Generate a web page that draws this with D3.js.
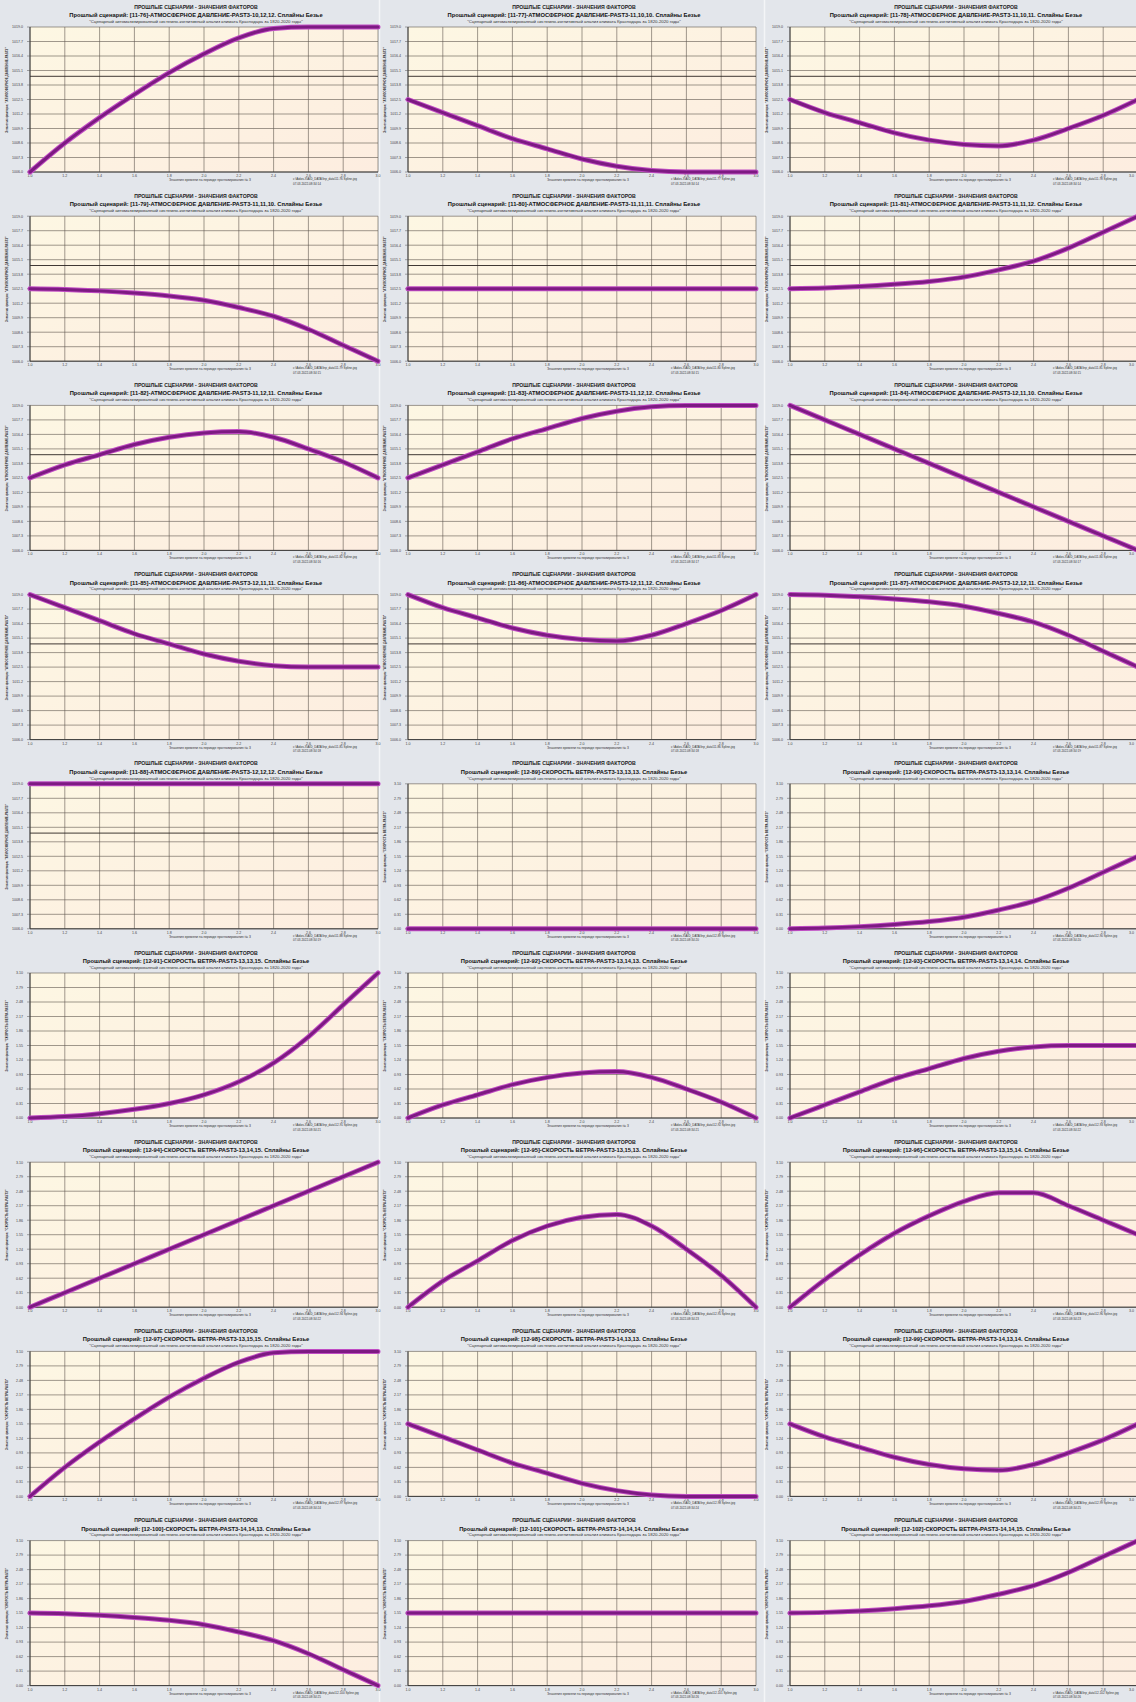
<!DOCTYPE html>
<html><head><meta charset="utf-8">
<script src="https://cdn.jsdelivr.net/npm/d3@7"></script>
<style>
html,body{margin:0;padding:0;background:#e3e6eb;}
svg{display:block;font-family:"Liberation Sans",Arial,sans-serif;}
</style></head>
<body><svg id="c" width="1136" height="1702"></svg>
<script>
// ---- data ----
const panelIds = ["11-76","11-77","11-78","11-79","11-80","11-81","11-82","11-83","11-84",
  "11-85","11-86","11-87","11-88","12-89","12-90","12-91","12-92","12-93",
  "12-94","12-95","12-96","12-97","12-98","12-99","12-100","12-101","12-102"];
const panelCodes = ["10,12,12","11,10,10","11,10,11","11,11,10","11,11,11","11,11,12","11,12,11","11,12,12","12,11,10",
  "12,11,11","12,11,12","12,12,11","12,12,12","13,13,13","13,13,14","13,13,15","13,14,13","13,14,14",
  "13,14,15","13,15,13","13,15,14","13,15,15","14,13,13","14,13,14","14,14,13","14,14,14","14,14,15"];
const factorNames = ["АТМОСФЕРНОЕ ДАВЛЕНИЕ","СКОРОСТЬ ВЕТРА"];
const panelFactor = [0,0,0,0,0,0,0,0,0,0,0,0,0,1,1,1,1,1,1,1,1,1,1,1,1,1,1];
const levelRange = [[10,12],[13,15]];
const pressureTickLabels = ["1006.0","1007.3","1008.6","1009.9","1011.2","1012.5","1013.8","1015.1","1016.4","1017.7","1019.0"];
const windTickLabels = ["0.00","0.31","0.62","0.93","1.24","1.55","1.86","2.17","2.48","2.79","3.10"];
const refLineLevel = [11.32, null];
const xTickLabels = ["1.0","1.2","1.4","1.6","1.8","2.0","2.2","2.4","2.6","2.8","3.0"];
const xSamples = [1.0,1.2,1.4,1.6,1.8,2.0,2.2,2.4,2.6,2.8,3.0];
const timeStamps = ["07.03.2022-08:34:14","07.03.2022-08:34:14","07.03.2022-08:34:14","07.03.2022-08:34:15","07.03.2022-08:34:15","07.03.2022-08:34:15","07.03.2022-08:34:16","07.03.2022-08:34:17","07.03.2022-08:34:17",
  "07.03.2022-08:34:18","07.03.2022-08:34:18","07.03.2022-08:34:19","07.03.2022-08:34:19","07.03.2022-08:34:20","07.03.2022-08:34:20","07.03.2022-08:34:21","07.03.2022-08:34:21","07.03.2022-08:34:22",
  "07.03.2022-08:34:22","07.03.2022-08:34:23","07.03.2022-08:34:23","07.03.2022-08:34:24","07.03.2022-08:34:24","07.03.2022-08:34:25","07.03.2022-08:34:25","07.03.2022-08:34:26","07.03.2022-08:34:26"];
// curve values (in scenario level units) read at the xSamples
const curveValues = [
 [10.00,10.40,10.75,11.07,11.37,11.63,11.85,11.98,12.00,12.00,12.00],
 [11.00,10.82,10.64,10.46,10.32,10.18,10.08,10.02,10.00,10.00,10.00],
 [11.00,10.82,10.68,10.54,10.44,10.38,10.36,10.44,10.60,10.78,11.00],
 [11.00,10.99,10.97,10.94,10.90,10.84,10.74,10.62,10.44,10.22,10.00],
 [11.00,11.00,11.00,11.00,11.00,11.00,11.00,11.00,11.00,11.00,11.00],
 [11.00,11.01,11.03,11.06,11.10,11.16,11.26,11.38,11.56,11.78,12.00],
 [11.00,11.18,11.32,11.46,11.56,11.62,11.64,11.56,11.40,11.22,11.00],
 [11.00,11.18,11.36,11.54,11.68,11.82,11.92,11.98,12.00,12.00,12.00],
 [12.00,11.80,11.60,11.40,11.20,11.00,10.80,10.60,10.40,10.20,10.00],
 [12.00,11.82,11.64,11.46,11.32,11.18,11.08,11.02,11.00,11.00,11.00],
 [12.00,11.82,11.68,11.54,11.44,11.38,11.36,11.44,11.60,11.78,12.00],
 [12.00,11.99,11.97,11.94,11.90,11.84,11.74,11.62,11.44,11.22,11.00],
 [12.00,12.00,12.00,12.00,12.00,12.00,12.00,12.00,12.00,12.00,12.00],
 [13.00,13.00,13.00,13.00,13.00,13.00,13.00,13.00,13.00,13.00,13.00],
 [13.00,13.01,13.03,13.06,13.10,13.16,13.26,13.38,13.56,13.78,14.00],
 [13.00,13.02,13.06,13.12,13.20,13.32,13.50,13.76,14.12,14.56,15.00],
 [13.00,13.18,13.32,13.46,13.56,13.62,13.64,13.56,13.40,13.22,13.00],
 [13.00,13.18,13.36,13.54,13.68,13.82,13.92,13.98,14.00,14.00,14.00],
 [13.00,13.20,13.40,13.60,13.80,14.00,14.20,14.40,14.60,14.80,15.00],
 [13.00,13.36,13.64,13.92,14.12,14.24,14.28,14.12,13.80,13.44,13.00],
 [13.00,13.38,13.72,14.02,14.26,14.46,14.58,14.58,14.40,14.20,14.00],
 [13.00,13.40,13.75,14.07,14.37,14.63,14.85,14.98,15.00,15.00,15.00],
 [14.00,13.82,13.64,13.46,13.32,13.18,13.08,13.02,13.00,13.00,13.00],
 [14.00,13.82,13.68,13.54,13.44,13.38,13.36,13.44,13.60,13.78,14.00],
 [14.00,13.99,13.97,13.94,13.90,13.84,13.74,13.62,13.44,13.22,13.00],
 [14.00,14.00,14.00,14.00,14.00,14.00,14.00,14.00,14.00,14.00,14.00],
 [14.00,14.01,14.03,14.06,14.10,14.16,14.26,14.38,14.56,14.78,15.00]
];

// ---- layout ----
const svg = d3.select("#c");
const defs = svg.append("defs");
const grad = defs.append("linearGradient").attr("id","bg").attr("x1","0").attr("y1","0").attr("x2","1").attr("y2","1");
grad.append("stop").attr("offset","0").attr("stop-color","#fdf7e3");
grad.append("stop").attr("offset","1").attr("stop-color","#fdede0");

const plotLefts = [30, 408, 790];
const plotW = 348, plotH = 145, rowPitch = 189.2, topOff = 27;

// font size giving a sample string a given natural width
function sizeFor(str, width, bold) {
  const t = svg.append("text").attr("font-size",10).attr("font-weight", bold ? "bold" : "normal").text(str);
  const w = t.node().getComputedTextLength();
  t.remove();
  return +(10*width/w).toFixed(2);
}
const fsHead = sizeFor("ПРОШЛЫЕ СЦЕНАРИИ - ЗНАЧЕНИЯ ФАКТОРОВ", 124, true);
const fsTitle = sizeFor(`Прошлый сценарий: [11-76]-АТМОСФЕРНОЕ ДАВЛЕНИЕ-PAST3-10,12,12. Сплайны Безье`, 254, true);
const fsSub = sizeFor("\"Сценарный автоматизированный системно-когнитивный анализ климата Краснодара за 1820-2020 годы\"", 214, false);
const fsYTitle = sizeFor(`Значения фактора: "АТМОСФЕРНОЕ ДАВЛЕНИЕ-PAST3"`, 86, true);
const fsXTitle = sizeFor("Значения времени на периоде прогнозирования № 3", 82, false);
const fsCredit = sizeFor("c:\\Aidos-X\\AID_DATA\\Inp_data\\11-76 Spline.jpg", 64, false);

[379.5, 764.5].forEach(x => svg.append("line").attr("x1",x).attr("x2",x).attr("y1",0).attr("y2",1702)
  .attr("stroke","#f4f5f7").attr("stroke-width",1.5));

panelIds.forEach((id, i) => {
  const r = Math.floor(i/3), c = i%3;
  const L = plotLefts[c], T = topOff + r*rowPitch, B = T + plotH, R = L + plotW;
  const f = panelFactor[i];
  const g = svg.append("g");
  const x = d3.scaleLinear().domain([xSamples[0], xSamples[xSamples.length-1]]).range([L, R]);
  const y = d3.scaleLinear().domain(levelRange[f]).range([B, T]);
  const tickLabels = f === 0 ? pressureTickLabels : windTickLabels;
  const yTicks = d3.range(tickLabels.length).map(k => levelRange[f][0] + k*(levelRange[f][1]-levelRange[f][0])/(tickLabels.length-1));

  // titles
  const cx = L + 166;
  g.append("text").attr("x",cx).attr("y",T-18.5).attr("text-anchor","middle").attr("font-weight","bold")
    .attr("font-size",fsHead).attr("fill","#222").text("ПРОШЛЫЕ СЦЕНАРИИ - ЗНАЧЕНИЯ ФАКТОРОВ");
  g.append("text").attr("x",cx).attr("y",T-10).attr("text-anchor","middle").attr("font-weight","bold")
    .attr("font-size",fsTitle).attr("fill","#111")
    .text(`Прошлый сценарий: [${id}]-${factorNames[f]}-PAST3-${panelCodes[i]}. Сплайны Безье`);
  g.append("text").attr("x",cx).attr("y",T-4.3).attr("text-anchor","middle").attr("font-size",fsSub)
    .attr("fill","#333").text("\"Сценарный автоматизированный системно-когнитивный анализ климата Краснодара за 1820-2020 годы\"");

  // plot background
  g.append("rect").attr("x",L).attr("y",T).attr("width",plotW).attr("height",plotH).attr("fill","url(#bg)");

  // grid
  g.append("g").selectAll("line").data(xSamples).join("line")
    .attr("x1",d=>x(d)).attr("x2",d=>x(d)).attr("y1",T).attr("y2",B).attr("stroke","#5f584f").attr("stroke-width",0.6);
  g.append("g").selectAll("line").data(yTicks).join("line")
    .attr("x1",L).attr("x2",R).attr("y1",d=>y(d)).attr("y2",d=>y(d)).attr("stroke","#5f584f").attr("stroke-width",0.6);
  if (refLineLevel[f] !== null) {
    g.append("line").attr("x1",L).attr("x2",R).attr("y1",y(refLineLevel[f])).attr("y2",y(refLineLevel[f]))
      .attr("stroke","#2a2420").attr("stroke-width",0.9);
  }
  // axes
  g.append("line").attr("x1",L).attr("x2",L).attr("y1",T).attr("y2",B).attr("stroke","#333").attr("stroke-width",0.9);
  g.append("line").attr("x1",L).attr("x2",R).attr("y1",B).attr("y2",B).attr("stroke","#333").attr("stroke-width",0.9);

  // y tick labels
  g.append("g").selectAll("text").data(yTicks).join("text")
    .attr("x",L-7).attr("y",d=>y(d)+1.3).attr("text-anchor","end").attr("font-size",3.6).attr("fill","#444")
    .text((d,k)=>tickLabels[k]);
  g.append("g").selectAll("line").data(yTicks).join("line")
    .attr("x1",L-3).attr("x2",L).attr("y1",d=>y(d)).attr("y2",d=>y(d)).attr("stroke","#555").attr("stroke-width",0.5);
  // x tick labels
  g.append("g").selectAll("text").data(xSamples).join("text")
    .attr("x",d=>Math.min(x(d), 1134)).attr("y",B+5)
    .attr("text-anchor",d=>x(d) > 1130 ? "end" : "middle").attr("font-size",3.6).attr("fill","#444")
    .text((d,k)=>xTickLabels[k]);

  // y axis title
  g.append("text").attr("transform",`translate(${L-22},${T+63}) rotate(-90)`).attr("text-anchor","middle")
    .attr("font-weight","bold").attr("font-size",fsYTitle).attr("fill","#333").text(`Значения фактора: "${factorNames[f]}-PAST3"`);
  // x axis title
  g.append("text").attr("x",L+180).attr("y",B+9).attr("text-anchor","middle").attr("font-size",fsXTitle).attr("fill","#333")
    .text("Значения времени на периоде прогнозирования № 3");
  // credit
  g.append("text").attr("x",L+263).attr("y",B+8).attr("font-size",fsCredit).attr("fill","#333")
    .text(`c:\\Aidos-X\\AID_DATA\\Inp_data\\${id} Spline.jpg`);
  g.append("text").attr("x",L+263).attr("y",B+12.5).attr("font-size",fsCredit).attr("fill","#333").text(timeStamps[i]);

  // curve
  const pts = xSamples.map((xv,k)=>[xv, curveValues[i][k]]);
  const line = d3.line().x(d=>x(d[0])).y(d=>y(d[1])).curve(d3.curveMonotoneX);
  g.append("path").attr("d",line(pts)).attr("fill","none").attr("stroke","#c04cc4").attr("stroke-width",5).attr("stroke-linecap","round");
  g.append("path").attr("d",line(pts)).attr("fill","none").attr("stroke","#7d1a82").attr("stroke-width",3).attr("stroke-linecap","round");
});
</script></body></html>
